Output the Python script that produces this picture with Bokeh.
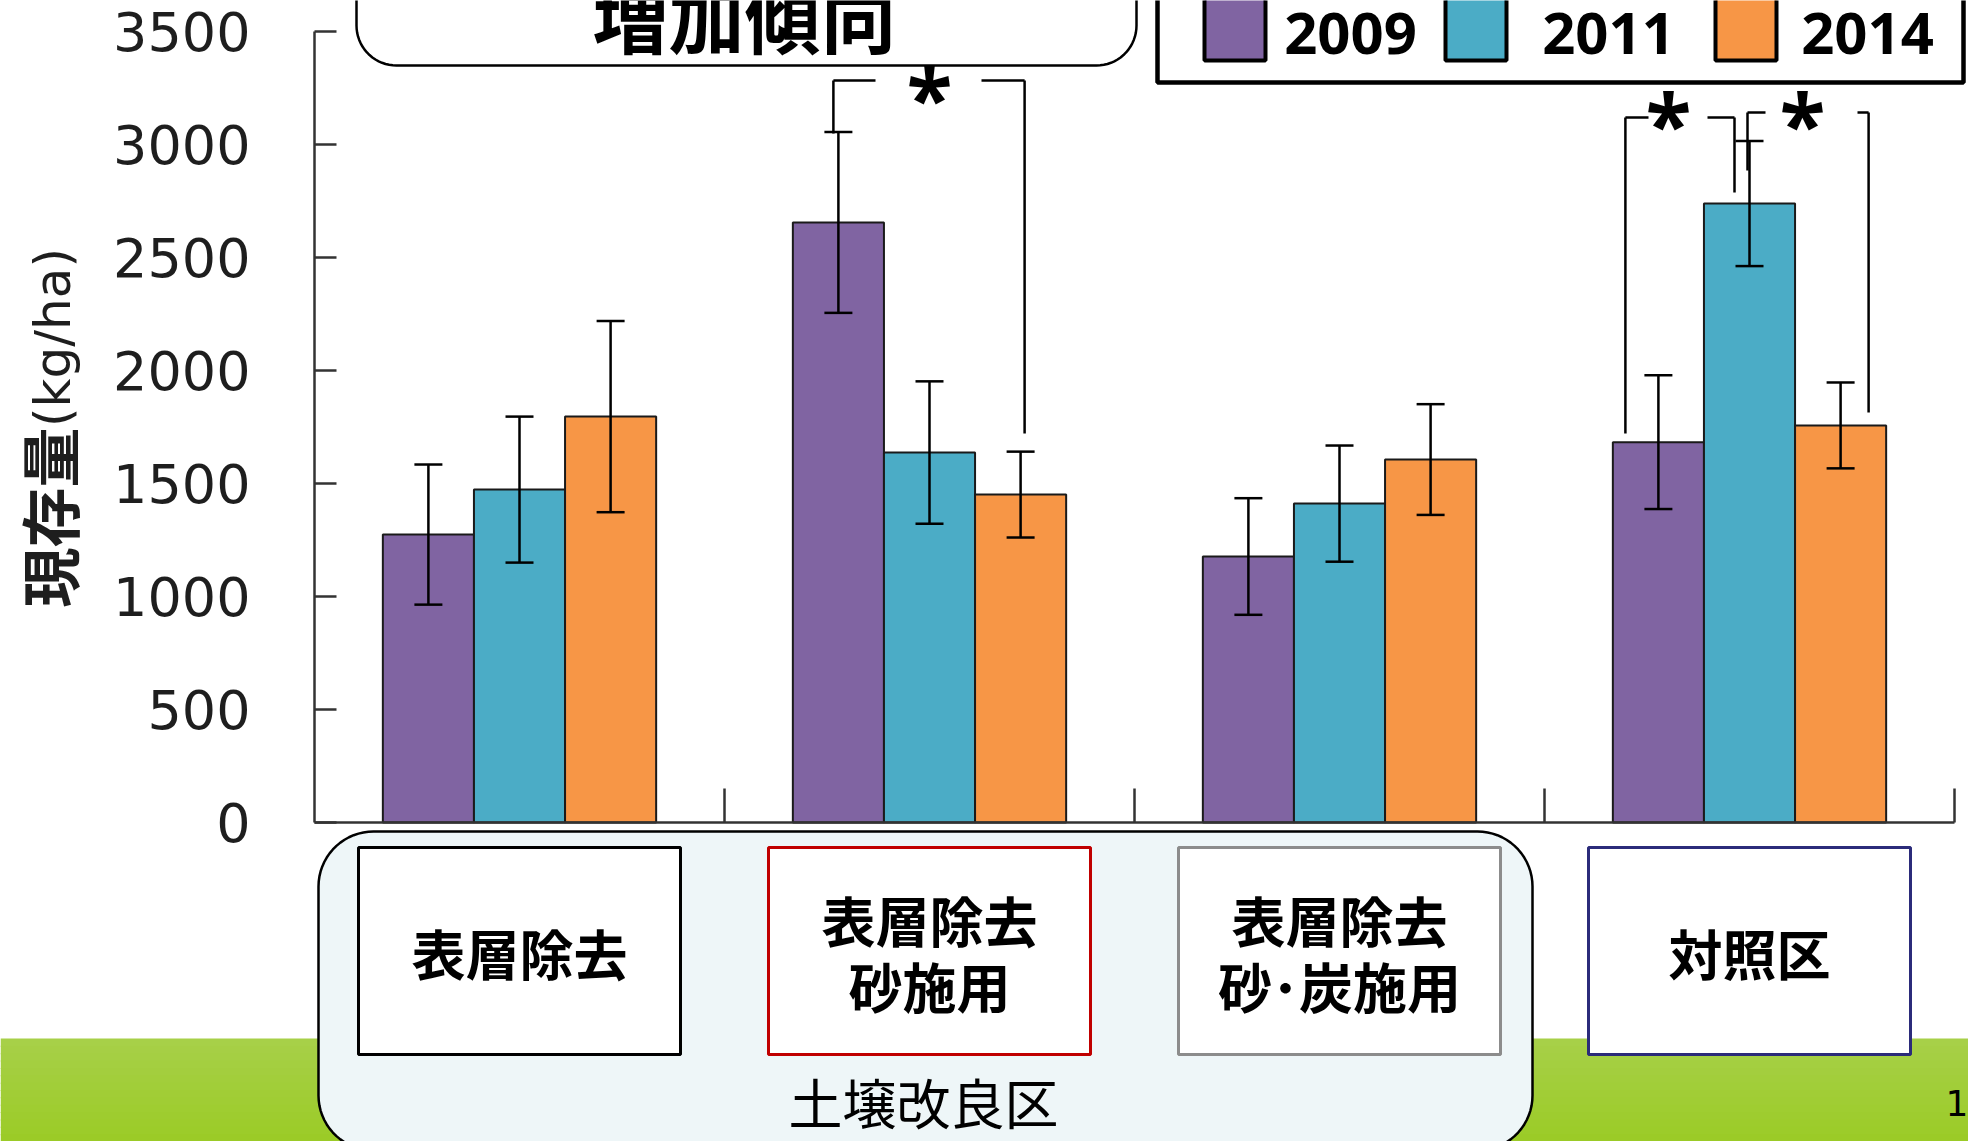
import numpy as np
from bokeh.plotting import figure
from bokeh.models import (Range1d, LinearAxis, FixedTicker, ColumnDataSource,
                          Whisker, TeeHead)
from bokeh.core.properties import value
from bokeh.embed import file_html
from bokeh.resources import INLINE

# ---- data -------------------------------------------------------------
treatments = ["表層除去", "表層除去\n砂施用", "表層除去\n砂･炭施用", "対照区"]
years = ["2009", "2011", "2014"]
biomass_2009 = [1274, 2655, 1177, 1683]
biomass_2011 = [1473, 1637, 1411, 2739]
biomass_2014 = [1796, 1451, 1606, 1757]
err_2009 = [310, 400, 258, 296]
err_2011 = [323, 315, 257, 277]
err_2014 = [423, 190, 245, 190]
y_ticks = [0, 500, 1000, 1500, 2000, 2500, 3000, 3500]
y_label_cjk = "現存量"
y_label_unit = "(kg/ha)"
improved_label = "土壌改良区"
trend_label = "増加傾向"
page_number = "1"

colors = ["#8064a2", "#4bacc6", "#f79646"]
box_colors = ["#000000", "#c00000", "#8c8c8c", "#2b2b7a"]

# ---- canvas geometry (pixels) ----------------------------------------
W, H = 1968, 1141
AX_X0, PX_PER_X = 314, 410.0          # x=0 at 314 px, one group = 410 px
AX_Y0, PX_PER_Y = 822, 791.0 / 3500   # y=0 at 822 px


def dx(px):
    return (px - AX_X0) / PX_PER_X


def dy(py):
    return (AX_Y0 - py) / PX_PER_Y


def rounded(left, top, right, bottom, r, n=18):
    pts = []
    corners = [((left + r, top + r), np.pi, 1.5 * np.pi),
               ((right - r, top + r), 1.5 * np.pi, 2 * np.pi),
               ((right - r, bottom - r), 0.0, 0.5 * np.pi),
               ((left + r, bottom - r), 0.5 * np.pi, np.pi)]
    for (cx, cy), a0, a1 in corners:
        for a in np.linspace(a0, a1, n):
            pts.append((cx + r * np.cos(a), cy + r * np.sin(a)))
    xs = [dx(x) for x, _ in pts]
    ys = [dy(y) for _, y in pts]
    return xs, ys


p = figure(width=W, height=H, x_range=Range1d(dx(0), dx(W)),
           y_range=Range1d(dy(H), dy(0)), output_backend="svg",
           toolbar_location=None, x_axis_location=None, y_axis_location=None,
           min_border=0, outline_line_color=None)
p.xgrid.visible = False
p.ygrid.visible = False
p.background_fill_color = "white"
p.border_fill_color = "white"

CJK = value("Noto Sans CJK JP")

# green footer band with a soft vertical gradient
n_strips = 14
edges = np.linspace(1038, H, n_strips + 1)
c_top = np.array([167, 208, 73])
c_bot = np.array([155, 203, 38])
strip_cols = []
for k in range(n_strips):
    c = c_top + (c_bot - c_top) * (k + 0.5) / n_strips
    strip_cols.append("#%02x%02x%02x" % tuple(int(round(v)) for v in c))
p.quad(left=dx(0), right=dx(W), top=[dy(e) for e in edges[:-1]],
       bottom=[dy(e + 1) for e in edges[1:]], fill_color=strip_cols,
       line_color=None)

# rounded panel grouping the soil-improvement plots
xs, ys = rounded(318, 831, 1532, 1150, 55)
p.patch(xs, ys, fill_color="#eef6f8", line_color="black", line_width=2.5)

# treatment boxes under each group
centers = np.arange(len(treatments)) + 0.5
box_half = 161 / PX_PER_X
p.quad(left=centers - box_half, right=centers + box_half,
       top=dy(847), bottom=dy(1054), fill_color="white",
       line_color=box_colors, line_width=3)
p.text(x=centers, y=dy(952), text=treatments, text_font=CJK,
       text_font_style="bold", text_font_size="54px", text_align="center",
       text_baseline="middle", text_line_height=0.84, text_color="black")
p.text(x=[dx(923)], y=[dy(1101)], text=[improved_label], text_font=CJK,
       text_font_size="54px", text_align="center", text_baseline="middle",
       text_color="black")
p.text(x=[dx(1945)], y=[dy(1102)], text=[page_number],
       text_font=value("DejaVu Sans"), text_font_size="36px",
       text_align="left", text_baseline="middle", text_color="black")

# bars
bar_w = 0.2222
series = [biomass_2009, biomass_2011, biomass_2014]
errors = [err_2009, err_2011, err_2014]
bar_x = []
for i, (vals, errs) in enumerate(zip(series, errors)):
    xpos = centers + (i - 1) * bar_w
    bar_x.append(xpos)
    src = ColumnDataSource(dict(x=xpos, top=vals,
                                upper=np.array(vals) + np.array(errs),
                                lower=np.array(vals) - np.array(errs)))
    p.vbar(x="x", top="top", bottom=0, width=bar_w, source=src,
           fill_color=colors[i], line_color="#1a1a1a", line_width=2)
    p.add_layout(Whisker(base="x", upper="upper", lower="lower", source=src,
                         dimension="height", line_color="black",
                         line_width=2.5, level="annotation",
                         upper_head=TeeHead(size=28, line_width=2.5,
                                            line_color="black"),
                         lower_head=TeeHead(size=28, line_width=2.5,
                                            line_color="black")))

# significance brackets: (group, left series, right series, left/right
# pixel shifts, top px, left-end px, right-end px, gap px, star centre px)
brackets = [
    (1, 0, 2, -5, 4, 80, 133, 433, (875, 981), (929, 96)),
    (3, 0, 1, -33, -15, 117, 433, 192, (1648, 1707), (1668, 122)),
    (3, 1, 2, -2, 28, 112, 170, 412, (1765, 1857), (1802, 122)),
]
seg_x0, seg_y0, seg_x1, seg_y1 = [], [], [], []
star_x, star_y = [], []
for g, sa, sb, sha, shb, top, ea, eb, gap, star in brackets:
    xa = bar_x[sa][g] + sha / PX_PER_X
    xb = bar_x[sb][g] + shb / PX_PER_X
    yt = dy(top)
    seg_x0 += [xa, xa, dx(gap[1]), xb]
    seg_x1 += [xa, dx(gap[0]), xb, xb]
    seg_y0 += [dy(ea), yt, yt, yt]
    seg_y1 += [yt, yt, yt, dy(eb)]
    star_x.append(dx(star[0]))
    star_y.append(dy(star[1]))
p.segment(x0=seg_x0, y0=seg_y0, x1=seg_x1, y1=seg_y1, line_color="black",
          line_width=2.5)
p.text(x=star_x, y=star_y, text=["*"] * len(star_x),
       text_font=value("Noto Sans"), text_font_style="bold",
       text_font_size="84px", text_align="center", text_baseline="middle",
       text_color="black")

# "increasing trend" callout at the top
xs, ys = rounded(356, -80, 1136, 65, 40)
p.patch(xs, ys, fill_color="white", line_color="black", line_width=2.5)
p.text(x=[dx(744)], y=[dy(14)], text=[trend_label], text_font=CJK,
       text_font_style="bold", text_font_size="76px", text_align="center",
       text_baseline="middle", text_color="black")

# year key
p.quad(left=dx(1157), right=dx(1963), top=dy(-20), bottom=dy(82),
       fill_color="white", line_color="black", line_width=4.5)
sw_left = [1204, 1445, 1715]
lbl_x = [1350, 1608, 1867]
p.quad(left=[dx(v) for v in sw_left], right=[dx(v + 61) for v in sw_left],
       top=dy(-10), bottom=dy(60), fill_color=colors, line_color="black",
       line_width=4)
p.text(x=[dx(v) for v in lbl_x], y=dy(33), text=years,
       text_font=value("Noto Sans"), text_font_style="bold",
       text_font_size="58px", text_align="center", text_baseline="middle",
       text_color="black")

# axes drawn at the data origin
yaxis = LinearAxis(fixed_location=0, bounds=(0, 3500),
                   ticker=FixedTicker(ticks=y_ticks, minor_ticks=[]),
                   major_tick_in=22, major_tick_out=0,
                   minor_tick_in=0, minor_tick_out=0,
                   axis_line_width=2.5, axis_line_color="#333333",
                   major_tick_line_width=2.5, major_tick_line_color="#333333",
                   major_label_standoff=64,
                   major_label_text_font="DejaVu Sans",
                   major_label_text_font_size="54px",
                   major_label_text_color="#1e1e1e")
p.add_layout(yaxis, "left")

xaxis = LinearAxis(fixed_location=0, bounds=(0, 4),
                   ticker=FixedTicker(ticks=[1, 2, 3, 4], minor_ticks=[]),
                   major_tick_in=34, major_tick_out=0,
                   minor_tick_in=0, minor_tick_out=0,
                   axis_line_width=2.5, axis_line_color="#333333",
                   major_tick_line_width=2.5, major_tick_line_color="#333333",
                   major_label_overrides={1: "", 2: "", 3: "", 4: ""})
p.add_layout(xaxis, "below")

# y-axis title, written bottom to top
p.text(x=[dx(47)], y=[dy(517)], text=[y_label_cjk], angle=np.pi / 2,
       text_font=CJK, text_font_style="bold", text_font_size="60px",
       text_align="center", text_baseline="middle", text_color="#1e1e1e")
p.text(x=[dx(52)], y=[dy(337)], text=[y_label_unit], angle=np.pi / 2,
       text_font=value("DejaVu Sans"), text_font_size="50px",
       text_align="center", text_baseline="middle", text_color="#1e1e1e")

open("out.html", "w").write(file_html(p, INLINE))
